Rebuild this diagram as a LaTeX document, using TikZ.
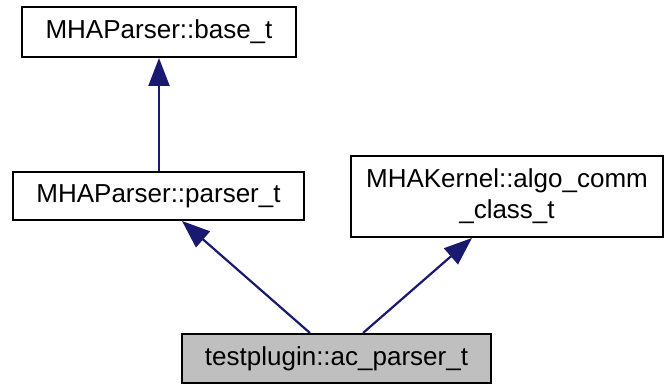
\documentclass[tikz,border=0pt]{standalone}
\usepackage{fontspec}
\setmainfont{Liberation Sans}
\usetikzlibrary{arrows.meta,calc}
\definecolor{edgeblue}{HTML}{191970}
\definecolor{boxgray}{HTML}{BFBFBF}
\begin{document}
\begin{tikzpicture}[x=1pt,y=1pt,
  classbox/.style={draw=black,line width=2pt,fill=white,inner sep=0pt,
    font=\fontsize{26}{31}\selectfont,align=center},
  edge/.style={draw=edgeblue,line width=2.2pt,-{Triangle[length=28pt,width=21pt]}}]
\useasboundingbox (0,0) rectangle (665,385);
\node[classbox,minimum width=274pt,minimum height=50pt] (base) at (159,353) {MHAParser::base\_t};
\node[classbox,minimum width=291pt,minimum height=48pt] (parser) at (158.5,189) {MHAParser::parser\_t};
\node[classbox,minimum width=312pt,minimum height=81pt] (algo) at (507,188.5) {MHAKernel::algo\_comm\\\_class\_t};
\node[classbox,fill=boxgray,minimum width=309pt,minimum height=49pt] (ac) at (336.5,26.5) {testplugin::ac\_parser\_t};
\draw[edge] (parser.north -| base.south) -- (base.south);
\draw[edge] ($(ac.north)+(-26.5,0)$) -- ($(parser.south west)+(170,0)$);
\draw[edge] ($(ac.north)+(26.5,0)$) -- ($(algo.south west)+(122,0)$);
\end{tikzpicture}
\end{document}
